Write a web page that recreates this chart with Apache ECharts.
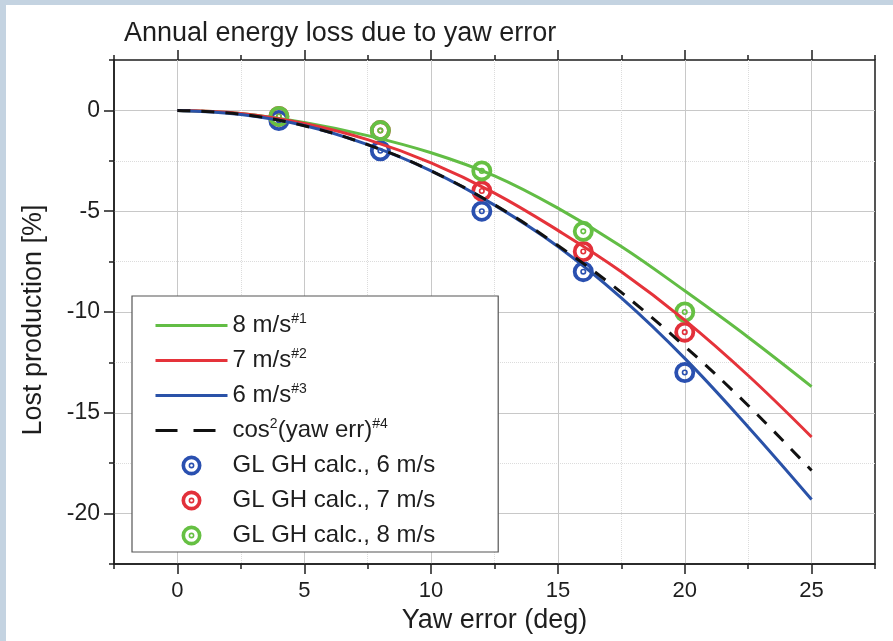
<!DOCTYPE html>
<html>
<head>
<meta charset="utf-8">
<script src="https://cdn.jsdelivr.net/npm/echarts@6/dist/echarts.min.js"></script>
<style>
  html, body { margin: 0; padding: 0; background: #fff; }
  #main { width: 893px; height: 641px; }
</style>
</head>
<body>
<div id="main"></div>
<script>
// yaw error (deg) for the curves
const xCurve = [0, 2.5, 5, 7.5, 10, 12.5, 15, 17.5, 20, 22.5, 25]
// lost production [%]
const loss8 = [0, -0.15, -0.6, -1.25, -2.1, -3.25, -4.85, -6.75, -8.95, -11.25, -13.7]
const loss7 = [0, -0.15, -0.65, -1.45, -2.6, -4.1, -5.95, -8.0, -10.4, -13.15, -16.2]
const loss6 = [0, -0.2, -0.75, -1.7, -3.0, -4.7, -6.75, -9.3, -12.3, -15.7, -19.3]
const lossCos2 = [0, -0.19, -0.76, -1.7, -3.0, -4.68, -6.7, -9.03, -11.7, -14.64, -17.86]
// GL GH calc. points
const xCalc = [4, 8, 12, 16, 20]
const calc6 = [-0.5, -2, -5, -8, -13]
const calc7 = [-0.3, -1, -4, -7, -11]
const calc8 = [-0.3, -1, -3, -6, -10]
// ticks
const xMajor = [0, 5, 10, 15, 20, 25]
const xMinor = [-2.5, 2.5, 7.5, 12.5, 17.5, 22.5, 27.5]
const xMinorGrid = [2.5, 7.5, 12.5, 17.5, 22.5]
const yMajor = [-20, -15, -10, -5, 0]
const yMinor = [-22.5, -17.5, -12.5, -7.5, -2.5, 2.5]
const yMinorGrid = [-17.5, -12.5, -7.5, -2.5]

const font = 'Liberation Sans, Arial, sans-serif'
const ink = '#1e1e1e'
// ring marker with small ring inside
const ring = 'path://M1,12A11,11 0 1,1 23,12A11,11 0 1,1 1,12Z' +
  'M5,12A7,7 0 1,0 19,12A7,7 0 1,0 5,12Z' +
  'M8.8,12A3.2,3.2 0 1,1 15.2,12A3.2,3.2 0 1,1 8.8,12Z' +
  'M10.5,12A1.5,1.5 0 1,0 13.5,12A1.5,1.5 0 1,0 10.5,12Z'

const legendText = {
  '8 m/s': '8 m/s{sup|#1}',
  '7 m/s': '7 m/s{sup|#2}',
  '6 m/s': '6 m/s{sup|#3}',
  'cos2(yaw err)': 'cos{sup|2}(yaw err){sup|#4}'
}

function pairs (xs, ys) {
  return xs.map((x, i) => [x, ys[i]])
}

// axis that only draws tick marks
function tickAxis (pos, values, len, range) {
  return Object.assign({
    type: 'value',
    position: pos,
    axisLine: { show: false, onZero: false },
    axisTick: { show: true, customValues: values, length: len, lineStyle: { color: ink, width: 1.5 } },
    axisLabel: { show: false },
    splitLine: { show: false }
  }, range)
}

// axis that only draws the dotted minor grid
function minorGridAxis (pos, values, range) {
  return Object.assign({
    type: 'value',
    position: pos,
    axisLine: { show: false, onZero: false },
    axisTick: { show: false, customValues: values },
    axisLabel: { show: false },
    splitLine: { show: true, lineStyle: { color: '#dcdcdc', width: 1, type: 'dotted' } }
  }, range)
}

const xRange = { min: -2.5, max: 27.5 }
const yRange = { min: -22.5, max: 2.5 }
const noSymbol = { opacity: 0 }

const chart = echarts.init(document.getElementById('main'))
chart.setOption({
  backgroundColor: '#fff',
  animation: false,
  graphic: [
    { type: 'rect', left: 0, top: 0, shape: { width: 6, height: 641 }, style: { fill: '#c4d3e1' } },
    { type: 'rect', left: 0, top: 0, shape: { width: 893, height: 5 }, style: { fill: '#c4d3e1' } }
  ],
  title: {
    text: 'Annual energy loss due to yaw error',
    left: 119,
    top: 15,
    textStyle: { fontFamily: font, fontSize: 27, fontWeight: 'normal', color: ink }
  },
  grid: {
    left: 114, right: 18, top: 60, bottom: 77,
    show: true, borderColor: ink, borderWidth: 1.5
  },
  xAxis: [
    Object.assign({
      type: 'value',
      position: 'bottom',
      name: 'Yaw error (deg)',
      nameLocation: 'middle',
      nameGap: 25,
      nameTextStyle: { fontFamily: font, fontSize: 27, color: ink },
      axisLine: { show: true, onZero: false, lineStyle: { color: ink, width: 1.5 } },
      axisTick: { show: true, customValues: xMajor, length: 10, lineStyle: { color: ink, width: 1.5 } },
      axisLabel: { customValues: xMajor, fontFamily: font, fontSize: 22, color: ink, margin: 16 },
      splitLine: { show: true, lineStyle: { color: '#c8c8c8', width: 1 } }
    }, xRange),
    minorGridAxis('bottom', xMinorGrid, xRange),
    tickAxis('bottom', xMinor, 5, xRange),
    tickAxis('top', xMajor, 10, xRange),
    tickAxis('top', xMinor, 5, xRange)
  ],
  yAxis: [
    Object.assign({
      type: 'value',
      position: 'left',
      name: 'Lost production [%]',
      nameLocation: 'middle',
      nameGap: 67,
      nameTextStyle: { fontFamily: font, fontSize: 27, color: ink, padding: [0, 16, 0, 0] },
      axisLine: { show: true, onZero: false, lineStyle: { color: ink, width: 1.5 } },
      axisTick: { show: true, customValues: yMajor, length: 10, lineStyle: { color: ink, width: 1.5 } },
      axisLabel: { customValues: yMajor, fontFamily: font, fontSize: 23, color: ink, margin: 14 },
      splitLine: { show: true, lineStyle: { color: '#c8c8c8', width: 1 } }
    }, yRange),
    minorGridAxis('left', yMinorGrid, yRange),
    tickAxis('left', yMinor, 5, yRange)
  ],
  legend: {
    orient: 'vertical',
    left: 132,
    top: 296,
    itemWidth: 72,
    itemHeight: 20,
    itemGap: 8,
    padding: [16, 63, 3, 22],
    backgroundColor: '#fff',
    borderColor: '#555',
    borderWidth: 1.2,
    selectedMode: false,
    lineStyle: { width: 3 },
    textStyle: {
      fontFamily: font,
      fontSize: 24,
      lineHeight: 27,
      color: ink,
      rich: {
        sup: { fontFamily: font, fontSize: 14, lineHeight: 14, verticalAlign: 'top', color: ink }
      }
    },
    formatter: name => legendText[name] || name,
    data: [
      { name: '8 m/s', itemStyle: noSymbol },
      { name: '7 m/s', itemStyle: noSymbol },
      { name: '6 m/s', itemStyle: noSymbol },
      { name: 'cos2(yaw err)', itemStyle: noSymbol, lineStyle: { type: [22, 16] } },
      'GL GH calc., 6 m/s', 'GL GH calc., 7 m/s', 'GL GH calc., 8 m/s'
    ]
  },
  series: [
    {
      name: '8 m/s', type: 'line', smooth: 0.4, symbol: 'none',
      data: pairs(xCurve, loss8),
      itemStyle: { color: '#62bd45' },
      lineStyle: { color: '#62bd45', width: 3 }
    },
    {
      name: '7 m/s', type: 'line', smooth: 0.4, symbol: 'none',
      data: pairs(xCurve, loss7),
      itemStyle: { color: '#e5333a' },
      lineStyle: { color: '#e5333a', width: 3 }
    },
    {
      name: '6 m/s', type: 'line', smooth: 0.4, symbol: 'none',
      data: pairs(xCurve, loss6),
      itemStyle: { color: '#2a52a8' },
      lineStyle: { color: '#2a52a8', width: 3 }
    },
    {
      name: 'cos2(yaw err)', type: 'line', smooth: 0.4, symbol: 'none',
      data: pairs(xCurve, lossCos2),
      itemStyle: { color: '#111' },
      lineStyle: { color: '#111', width: 3, type: [13, 11] }
    },
    {
      name: 'GL GH calc., 6 m/s', type: 'scatter', symbol: ring, symbolSize: 21, symbolKeepAspect: true,
      data: pairs(xCalc, calc6),
      itemStyle: { color: '#2a50b0', opacity: 1 }
    },
    {
      name: 'GL GH calc., 7 m/s', type: 'scatter', symbol: ring, symbolSize: 21, symbolKeepAspect: true,
      data: pairs(xCalc, calc7),
      itemStyle: { color: '#e2303a', opacity: 1 }
    },
    {
      name: 'GL GH calc., 8 m/s', type: 'scatter', symbol: ring, symbolSize: 21, symbolKeepAspect: true,
      data: pairs(xCalc, calc8),
      itemStyle: { color: '#66c043', opacity: 1 }
    }
  ]
})
</script>
</body>
</html>
